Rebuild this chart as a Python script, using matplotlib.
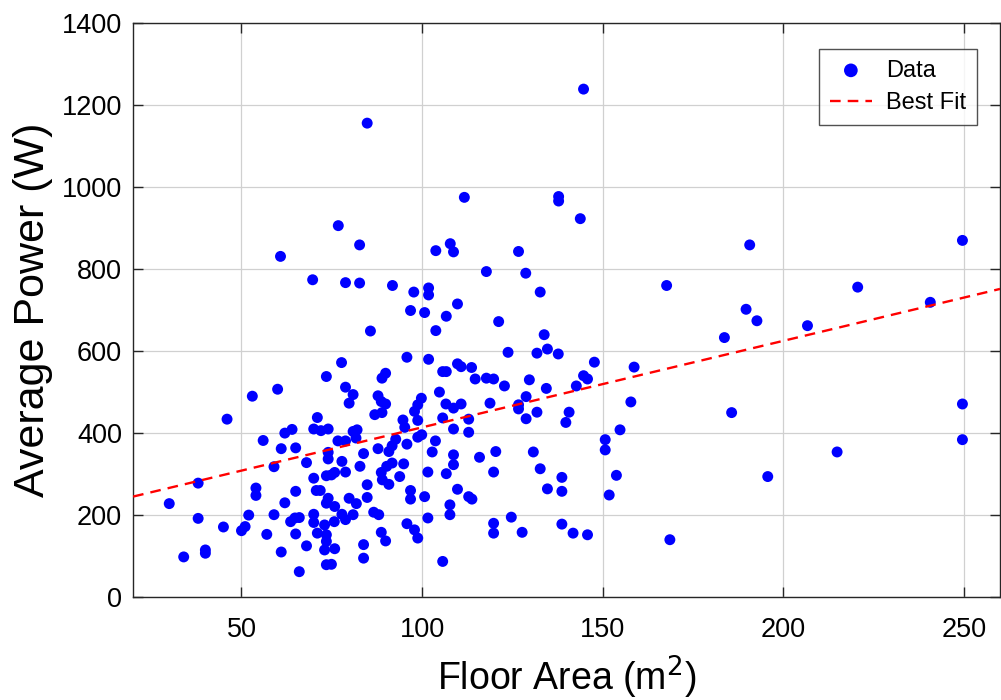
import matplotlib
matplotlib.use("Agg")
import matplotlib.pyplot as plt
import numpy as np

plt.rcParams["font.family"] = ["Liberation Sans", "DejaVu Sans"]

# floor area (m^2) and average power (W)
area = [
    60, 53, 46, 71, 64, 62, 70, 72, 74, 56, 61, 65, 68, 74, 74, 59, 38, 30, 70, 73.5,
    54, 54, 65, 70.7, 71.8, 74, 73.5, 62, 38, 45, 52, 51, 50, 57, 59, 63.6, 64.8, 66, 70, 70,
    73, 71, 65, 68, 73.5, 73.5, 73, 73.5, 61, 40, 40, 34, 66,
    78.8, 80.9, 79.8, 87.8, 88.7, 89.9, 86.9, 88.9, 80.9, 82, 81.7, 76.7, 78.8, 77.8, 83.8, 82.8,
    87.8, 90.8, 91.7, 92.7, 94.7, 95.2, 97.9, 98.8, 99.8, 98.8, 95.8, 98.8, 99.9, 104.8, 106.6,
    108.7, 110.8, 105.7, 108.7, 112.9, 112.9, 118.8, 103.7, 102.8, 108.7, 108.7, 115.9, 120.4,
    119.8, 101.6, 106.7, 109.8, 112.9, 113.8, 88.7, 90.2, 91.7, 89, 90.8, 93.8, 94.9, 74.9, 75.8,
    78.8, 84.8, 84.8, 79.8, 81.8, 75.8, 77.8, 78.8, 80.9, 75.7, 86.6, 88, 75.8, 74.9, 83.8, 83.8,
    88.7, 89.9, 95.8, 97.9, 98.8, 96.8, 96.8, 100.7, 101.6, 107.7, 107.7, 119.8, 119.8, 105.7,
    122.8, 134.4, 142.7, 126.7, 126.7, 128.8, 128.8, 131.8, 140.7, 139.8, 157.8, 154.8, 150.7,
    150.7, 130.8, 132.7, 138.7, 134.7, 138.7, 153.8, 151.8, 124.7, 127.7, 138.7, 141.8, 145.8,
    168.6,
    60.8, 69.7, 73.5,
    76.8, 82.7, 103.8, 107.8, 108.7, 117.8, 78.8, 82.7, 91.8, 97.7, 101.8, 101.8, 109.8, 96.8,
    100.7, 106.7, 121.2, 85.7, 103.8, 95.8, 101.8, 77.7, 89.9, 88.9, 105.7, 106.7, 109.8, 110.8,
    113.7, 114.7, 117.8, 119.8,
    143.8, 126.7, 128.7, 132.7, 167.7, 133.8, 123.8, 131.8, 134.7, 137.7, 147.7, 158.7, 129.7,
    144.7, 145.8,
    144.7, 84.8, 111.7, 137.8, 137.8,
    190.7, 249.6, 220.6, 189.7, 192.7, 183.7, 206.7, 240.7, 185.7, 249.6, 249.6, 214.9, 195.7,
]
power = [
    507, 490, 434, 438, 409, 400, 410, 406, 410, 382, 362, 364, 328, 337, 353, 318, 278, 228, 290, 296,
    266, 248, 258, 260, 260, 241, 229, 230, 192, 171, 200, 172, 162, 153, 201, 184, 193, 194, 202, 182,
    176, 156, 154, 125, 152, 136, 115, 79, 110, 115, 107, 98, 62,
    512, 494, 473, 491, 477, 471, 445, 450, 404, 408, 388, 381, 381, 331, 350, 319,
    362, 355, 369, 385, 432, 414, 453, 469, 485, 431, 373, 390, 396, 500, 471,
    461, 471, 437, 410, 434, 402, 473, 381, 354, 347, 323, 341, 355,
    305, 305, 301, 263, 245, 239, 304, 319, 327, 286, 275, 294, 325, 298, 304,
    305, 274, 243, 241, 228, 221, 202, 189, 201, 184, 207, 201, 118, 80, 128, 95,
    158, 137, 179, 164, 144, 260, 239, 245, 193, 225, 201, 180, 156, 87,
    515, 509, 515, 469, 459, 489, 435, 451, 451, 426, 476, 408, 384,
    359, 354, 313, 292, 264, 258, 297, 249, 195, 158, 178, 156, 152,
    140,
    831, 774, 538,
    906, 859, 845, 862, 842, 794, 767, 766, 760, 744, 754, 737, 715, 699,
    694, 685, 672, 649, 650, 585, 580, 572, 546, 534, 550, 550, 569, 562,
    560, 532, 534, 532,
    923, 843, 790, 744, 760, 640, 597, 595, 605, 593, 573, 561, 530,
    540, 532,
    1239, 1156, 975, 977, 966,
    859, 870, 756, 702, 674, 633, 662, 719, 450, 471, 384, 354, 294,
]

# best-fit line (W = slope * area + intercept)
fit_slope = 2.11
fit_intercept = 203
fit_range = [20, 260]

fig = plt.figure(figsize=(10.01, 7.0), dpi=100)
ax = fig.add_axes([0.133, 0.147, 0.866, 0.82])

ax.scatter(area, power, s=62, color="#0000ff", edgecolors="none", label="Data", zorder=3)
xf = np.array(fit_range)
ax.plot(xf, fit_slope * xf + fit_intercept, "--", color="#ff0000", lw=1.7,
        dashes=(4.5, 3), label="Best Fit", zorder=4)

ax.set_xlim(20, 260)
ax.set_ylim(0, 1400)
ax.set_xticks([50, 100, 150, 200, 250])
ax.set_yticks(range(0, 1401, 200))
ax.grid(True, color="#d0d0d0", lw=0.9)
ax.set_axisbelow(True)
ax.tick_params(direction="in", length=7, width=1, top=True, right=True,
               labelsize=19.5, colors="#262626", labelcolor="black")
ax.tick_params(axis="x", pad=14)
ax.tick_params(axis="y", pad=8)
for sp in ax.spines.values():
    sp.set_color("#262626")
    sp.set_linewidth(1)

ax.set_xlabel("Floor Area (m$^2$)", fontsize=27, labelpad=8)
ax.set_ylabel("Average Power (W)", fontsize=31, labelpad=6)

leg = ax.legend(loc="upper right", bbox_to_anchor=(0.9735, 0.955), borderaxespad=0,
                fontsize=17, frameon=True, fancybox=False, edgecolor="#262626",
                markerscale=1.25, handlelength=1.8, borderpad=0.45, labelspacing=0.45,
                handletextpad=0.6)
leg.get_frame().set_linewidth(1)

fig.savefig("out.png", dpi=100)
